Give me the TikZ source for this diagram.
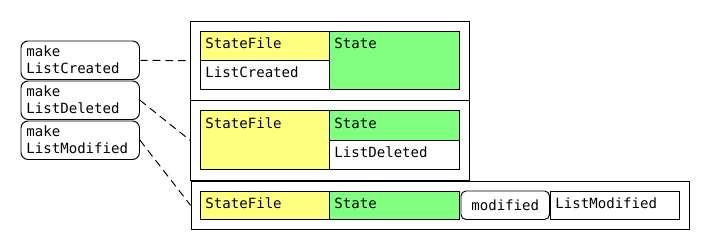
\documentclass[tikz,border=0pt]{standalone}
\usepackage{fontspec}
\setmonofont{DejaVu Sans Mono}
\newlength\unitpx
\setlength\unitpx{0.025cm}
\definecolor{filecol}{RGB}{255,255,128}
\definecolor{statecol}{RGB}{128,255,128}
\begin{document}
\begin{tikzpicture}[x=0.025cm,y=-0.025cm,
    every node/.style={font=\ttfamily\fontsize{10}{11.5}\selectfont},
    frame/.style 2 args={draw,line width=0.7pt,anchor=north west,inner sep=0pt,
      minimum width=#1\unitpx,minimum height=#2\unitpx},
    cell/.style n args={3}{draw,line width=0.7pt,anchor=north west,fill=#3,
      inner xsep=5\unitpx,inner ysep=0pt,align=left,
      text width=#1\unitpx-10\unitpx,text height=18\unitpx,text depth=#2\unitpx-18\unitpx},
    maker/.style={draw,line width=0.7pt,rounded corners=5pt,anchor=north west,
      inner xsep=5.5\unitpx,inner ysep=0pt,align=left,
      text width=107.5\unitpx,text height=16\unitpx,text depth=22.5\unitpx},
    tag/.style={draw,line width=0.7pt,rounded corners=3.5pt,anchor=north west,
      inner sep=0pt,minimum width=88.5\unitpx,minimum height=28.5\unitpx},
    link/.style={line width=0.7pt,dash pattern=on 5.5pt off 3.5pt}]
\useasboundingbox (0,0) rectangle (710,250);

\node[maker] (mkCreated) at (20.5,40.5) {make\\ListCreated};
\node[maker] (mkDeleted) at (20.5,80.5) {make\\ListDeleted};
\node[maker] (mkModified) at (20.5,120.5) {make\\ListModified};

\node[frame={279}{79.5}] (fCreated) at (190,20.5) {};
\node[frame={279}{79.5}] (fDeleted) at (190,100) {};
\node[frame={498.5}{48.5}] (fModified) at (190.5,180.5) {};

% created
\node[cell={129}{29}{filecol}] (sfCreated) at (200,30.5) {StateFile};
\node[cell={129}{29.5}{white}] (lcCreated) at (200,59.5) {ListCreated};
\node[cell={130}{58.5}{statecol}] (stCreated) at (329,30.5) {State};

% deleted
\node[cell={129}{59}{filecol}] (sfDeleted) at (200,110) {StateFile};
\node[cell={130}{29.5}{statecol}] (stDeleted) at (329,110) {State};
\node[cell={130}{29.5}{white}] (ldDeleted) at (329,139.5) {ListDeleted};

% modified
\node[cell={129}{28.5}{filecol}] (sfModified) at (200,190.5) {StateFile};
\node[cell={130}{28.5}{statecol}] (stModified) at (329,190.5) {State};
\node[tag] (modTag) at (460.5,190.5) {modified};
\node[cell={129}{28.5}{white}] (lmModified) at (550,190.5) {ListModified};

\draw[link] (mkCreated.east) -- (fCreated.west);
\draw[link] (mkDeleted.east) -- (fDeleted.west);
\draw[link] (mkModified.east) -- (fModified.west);

\end{tikzpicture}
\end{document}
